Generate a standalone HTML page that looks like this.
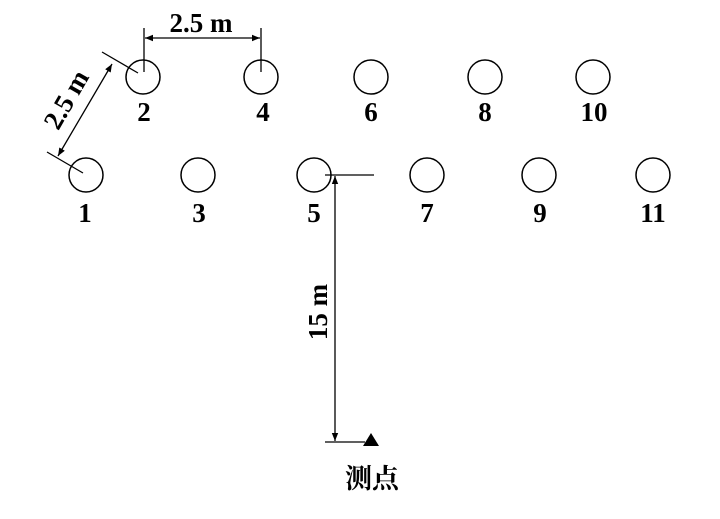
<!DOCTYPE html>
<html><head><meta charset="utf-8"><style>body{margin:0;background:#fff}</style></head><body>
<svg width="720" height="514" viewBox="0 0 720 514" xmlns="http://www.w3.org/2000/svg">
<defs><marker id="a" viewBox="0 0 10 10" refX="10" refY="5" markerWidth="14" markerHeight="8" orient="auto-start-reverse" markerUnits="userSpaceOnUse"><path d="M0,1 L10,5 L0,9 Z" fill="#000"/></marker></defs>
<g fill="none" stroke="#000" stroke-width="1.5">
<circle cx="143" cy="77" r="17"/><circle cx="261" cy="77" r="17"/><circle cx="371" cy="77" r="17"/><circle cx="485" cy="77" r="17"/><circle cx="593" cy="77" r="17"/>
<circle cx="86" cy="175" r="17"/><circle cx="198" cy="175" r="17"/><circle cx="314" cy="175" r="17"/><circle cx="427" cy="175" r="17"/><circle cx="539" cy="175" r="17"/><circle cx="653" cy="175" r="17"/>
</g>
<g stroke="#000" stroke-width="1.3" fill="none">
<line x1="144" y1="28" x2="144" y2="72"/><line x1="261" y1="28" x2="261" y2="72"/>
<line x1="145" y1="38" x2="260" y2="38" marker-start="url(#a)" marker-end="url(#a)"/>
<line x1="102" y1="52" x2="138" y2="73"/><line x1="47" y1="152" x2="83" y2="173"/>
<line x1="112" y1="64" x2="58" y2="156" marker-start="url(#a)" marker-end="url(#a)"/>
<line x1="325" y1="175" x2="374" y2="175"/>
<line x1="335" y1="176" x2="335" y2="441" marker-start="url(#a)" marker-end="url(#a)"/>
<line x1="325" y1="442" x2="365" y2="442"/>
</g>
<path d="M363,446 L371,433 L379,446 Z" fill="#000"/>
<g font-family="Liberation Serif, serif" font-weight="bold" font-size="27" text-anchor="middle" fill="#000">
<text x="144" y="121">2</text><text x="263" y="121">4</text><text x="371" y="121">6</text><text x="485" y="121">8</text><text x="594" y="121">10</text>
<text x="85" y="222">1</text><text x="199" y="222">3</text><text x="314" y="222">5</text><text x="427" y="222">7</text><text x="540" y="222">9</text><text x="653" y="222">11</text>
<text x="201" y="32">2.5 m</text>
<text transform="translate(74,104) rotate(-60)">2.5 m</text>
<text transform="translate(327,312) rotate(-90)">15 m</text>
<text x="372" y="488" font-family="Liberation Serif, 'Noto Serif CJK SC', serif" font-weight="bold" font-size="27">测点</text>
</g>
</svg>
</body></html>
